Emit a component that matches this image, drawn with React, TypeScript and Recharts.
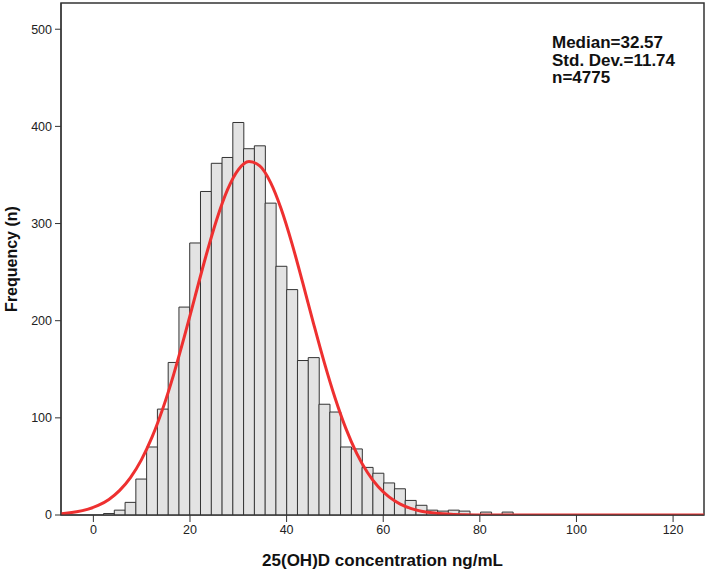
import React from 'react';
import { ComposedChart, Bar, Line, XAxis, YAxis, ReferenceArea, Label } from 'recharts';

// histogram bins (centre of each bin, ng/mL) and counts
const binCenters = [
    3.22, 5.45, 7.68, 9.91, 12.14, 14.37, 16.6, 18.83, 21.06, 23.29,
    25.52, 27.75, 29.98, 32.21, 34.44, 36.67, 38.9, 41.13, 43.36, 45.59,
    47.82, 50.05, 52.28, 54.51, 56.74, 58.97, 61.2, 63.43, 65.66, 67.89,
    70.12, 72.35, 74.58, 76.81, 79.04, 81.27, 83.5, 85.73,
];
const binCounts = [
    1.5, 5, 13, 37, 70, 109, 157, 214, 280, 333,
    362, 368, 404, 377, 380, 321, 256, 232, 159, 162,
    114, 106, 70, 68, 49, 43, 33, 27, 15, 10,
    5, 4, 5, 4, 0, 3, 0, 3,
];

// fitted normal curve, sampled on the same grid as the bins
const curveX = [
    -7.93, -5.7, -3.47, -1.24, 0.99,
    3.22, 5.45, 7.68, 9.91, 12.14, 14.37, 16.6, 18.83, 21.06, 23.29,
    25.52, 27.75, 29.98, 32.21, 34.44, 36.67, 38.9, 41.13, 43.36, 45.59,
    47.82, 50.05, 52.28, 54.51, 56.74, 58.97, 61.2, 63.43, 65.66, 67.89,
    70.12, 72.35, 74.58, 76.81, 79.04, 81.27, 83.5, 85.73, 87.96, 128.1,
];
const curveY = [
    0.95, 1.8, 3.3, 5.8, 9.8,
    16.0, 25.3, 38.5, 56.5, 80.1, 109.5, 144.3, 183.5, 225.1, 266.3,
    303.9, 334.6, 355.3, 363.8, 359.4, 342.4, 314.7, 279.1, 238.6, 196.8,
    156.6, 120.2, 88.9, 63.5, 43.7, 29.0, 18.6, 11.5, 6.9, 3.9,
    2.2, 1.2, 0.6, 0.3, 0.1, 0.05, 0, 0, 0, 0,
];

const xTicks = [0, 20, 40, 60, 80, 100, 120];
const yTicks = [0, 100, 200, 300, 400, 500];
const xDomain: [number, number] = [-6.7, 126.4];
const yDomain: [number, number] = [0, 527];
const statLines = ['Median=32.57', 'Std. Dev.=11.74', 'n=4775'];

type Row = { x: number; freq?: number; fit?: number };

// one row per x so the bars keep their full band width
const byX = new Map<number, Row>();
curveX.forEach((x, i) => byX.set(x, { x, fit: curveY[i] }));
binCenters.forEach((x, i) => {
    const row = byX.get(x) || { x };
    row.freq = binCounts[i];
    byX.set(x, row);
});
const rows: Row[] = Array.from(byX.values()).sort((a, b) => a.x - b.x);

const FONT = '"Liberation Sans", Arial, sans-serif';
const tickStyle = { fill: '#222', fontSize: 12.5, fontFamily: FONT };

const App: React.FC = () => {
    return (
        <div style={{ position: 'absolute', left: 0, top: 0, width: 707, height: 570, background: '#fff' }}>
            <ComposedChart
                width={707}
                height={570}
                data={rows}
                margin={{ top: 3, right: 3, bottom: 0, left: 0 }}
                barCategoryGap={0}
                barGap={0}
                style={{ fontFamily: FONT }}
            >
                <XAxis
                    dataKey="x"
                    type="number"
                    domain={xDomain}
                    ticks={xTicks}
                    allowDataOverflow
                    height={55}
                    tickSize={7}
                    tickMargin={3}
                    stroke="#333"
                    tick={tickStyle}
                >
                    <Label
                        value="25(OH)D concentration ng/mL"
                        position="insideBottom"
                        offset={4}
                        style={{ fontSize: 17, fontWeight: 'bold', fill: '#111', fontFamily: FONT }}
                    />
                </XAxis>
                <YAxis
                    type="number"
                    domain={yDomain}
                    ticks={yTicks}
                    allowDataOverflow
                    width={61}
                    tickSize={6}
                    tickMargin={3}
                    stroke="#333"
                    tick={tickStyle}
                >
                    <Label
                        value="Frequency (n)"
                        angle={-90}
                        position="insideLeft"
                        offset={11}
                        style={{ textAnchor: 'middle', fontSize: 16, fontWeight: 'bold', fill: '#111', fontFamily: FONT }}
                    />
                </YAxis>
                <Bar
                    dataKey="freq"
                    fill="#e3e3e3"
                    stroke="#333"
                    strokeWidth={1}
                    isAnimationActive={false}
                />
                <Line
                    dataKey="fit"
                    type="monotone"
                    stroke="#ee3030"
                    strokeWidth={3}
                    dot={false}
                    activeDot={false}
                    connectNulls
                    isAnimationActive={false}
                />
                <ReferenceArea
                    x1={xDomain[0]}
                    x2={xDomain[1]}
                    y1={yDomain[0]}
                    y2={yDomain[1]}
                    fill="none"
                    fillOpacity={0}
                    stroke="#333"
                    strokeWidth={1.5}
                />
            </ComposedChart>
            <div
                style={{
                    position: 'absolute',
                    left: 552,
                    top: 34,
                    fontFamily: FONT,
                    fontWeight: 'bold',
                    fontSize: 17,
                    lineHeight: '17.5px',
                    color: '#111',
                }}
            >
                {statLines.map((s) => (
                    <div key={s}>{s}</div>
                ))}
            </div>
        </div>
    );
};

export default App;
